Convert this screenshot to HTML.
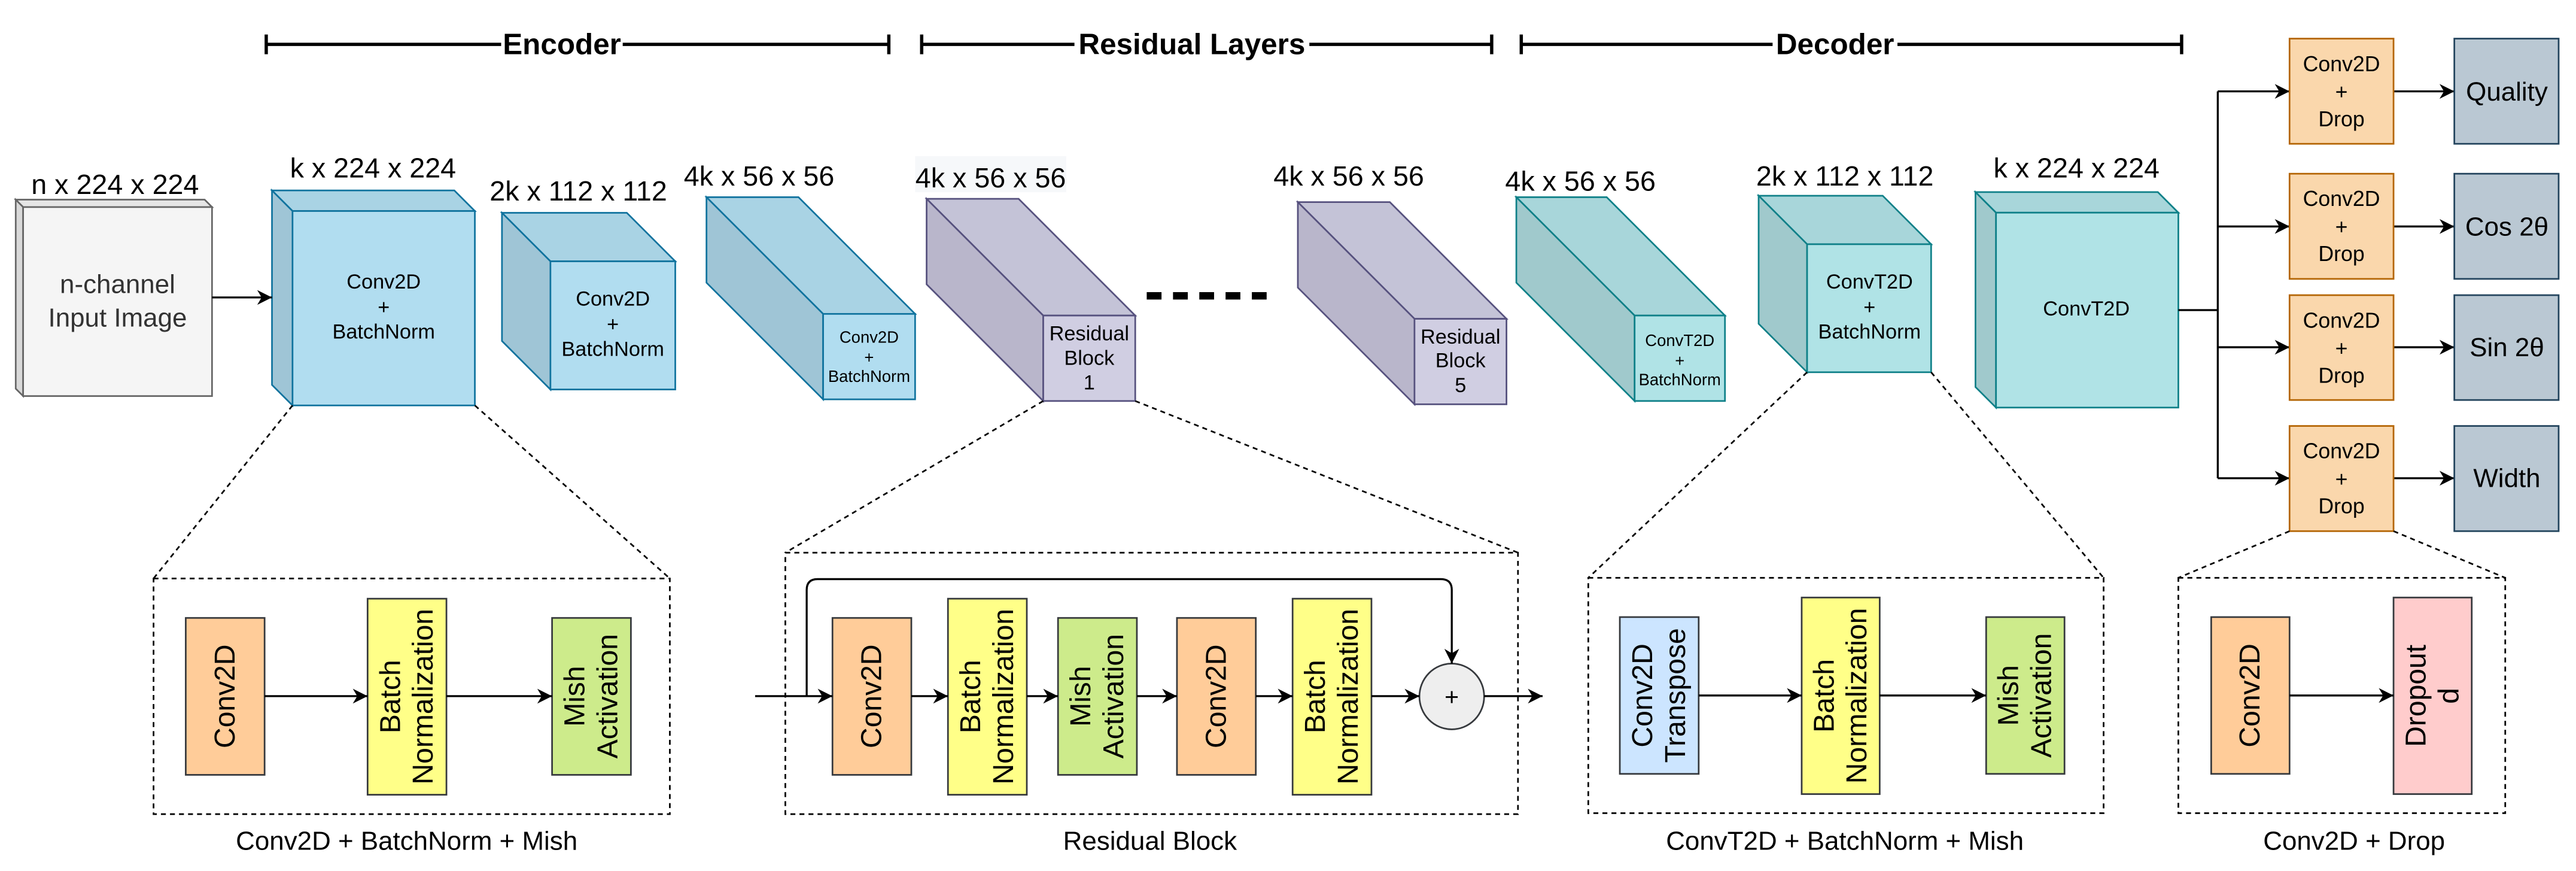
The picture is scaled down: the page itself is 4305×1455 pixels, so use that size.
<!DOCTYPE html>
<html><head><meta charset="utf-8"><style>
html,body{margin:0;padding:0;background:#fff;}
svg{display:block;}
text{font-family:"Liberation Sans",Arial,sans-serif;fill:#000;}
</style></head><body>
<svg width="4305" height="1455" viewBox="0 0 1568 530" xmlns="http://www.w3.org/2000/svg">
<defs>
<marker id="ar" markerUnits="userSpaceOnUse" markerWidth="9" markerHeight="9" viewBox="0 0 10 10" refX="10" refY="5" orient="auto">
<path d="M0,0 L10,5 L0,10 L3,5 z" fill="#000"/>
</marker>
</defs>
<g stroke="#000" stroke-width="2" fill="none">
<line x1="162" y1="27" x2="541" y2="27"/><line x1="162" y1="21" x2="162" y2="33"/><line x1="541" y1="21" x2="541" y2="33"/>
<line x1="561" y1="27" x2="908" y2="27"/><line x1="561" y1="21" x2="561" y2="33"/><line x1="908" y1="21" x2="908" y2="33"/>
<line x1="926" y1="27" x2="1328" y2="27"/><line x1="926" y1="21" x2="926" y2="33"/><line x1="1328" y1="21" x2="1328" y2="33"/>
</g>
<g font-weight="bold" font-size="18" text-anchor="middle">
<rect x="305" y="15" width="74" height="22" fill="#fff"/><text x="342" y="33">Encoder</text>
<rect x="654" y="15" width="143" height="22" fill="#fff"/><text x="725.5" y="33">Residual Layers</text>
<rect x="1079" y="15" width="76" height="22" fill="#fff"/><text x="1117" y="33">Decoder</text>
</g>

<g stroke-width="1">
<g stroke="#666"><polygon points="14,126 9.5,121.5 124.5,121.5 129,126" fill="#e6e6e6"/><polygon points="14,126 9.5,121.5 9.5,236.5 14,241" fill="#d9d9d9"/><rect x="14" y="126" width="115" height="115" fill="#f5f5f5"/></g>
<g stroke="#10739e"><polygon points="178,128.4 165.5,115.9 276.5,115.9 289,128.4" fill="#a9d3e4"/><polygon points="178,128.4 165.5,115.9 165.5,234.2 178,246.7" fill="#9fc5d6"/><rect x="178" y="128.4" width="111" height="118.3" fill="#b1ddf0"/></g>
<g stroke="#10739e"><polygon points="335,159 305.5,129.5 381.5,129.5 411,159" fill="#a9d3e4"/><polygon points="335,159 305.5,129.5 305.5,207.5 335,237" fill="#9fc5d6"/><rect x="335" y="159" width="76" height="78" fill="#b1ddf0"/></g>
<g stroke="#10739e"><polygon points="501,191 430,120 486,120 557,191" fill="#a9d3e4"/><polygon points="501,191 430,120 430,172 501,243" fill="#9fc5d6"/><rect x="501" y="191" width="56" height="52" fill="#b1ddf0"/></g>
<rect x="557" y="95" width="92" height="22" fill="#f6f8fa"/>
<g stroke="#56517e"><polygon points="635,192 564,121 620,121 691,192" fill="#c4c3d7"/><polygon points="635,192 564,121 564,173 635,244" fill="#b9b6cb"/><rect x="635" y="192" width="56" height="52" fill="#d0cee2"/></g>
<g stroke="#56517e"><polygon points="861,194 790,123 846,123 917,194" fill="#c4c3d7"/><polygon points="861,194 790,123 790,175 861,246" fill="#b9b6cb"/><rect x="861" y="194" width="56" height="52" fill="#d0cee2"/></g>
<g stroke="#0e8088"><polygon points="995,192 923,120 978,120 1050,192" fill="#a8d6da"/><polygon points="995,192 923,120 923,172 995,244" fill="#a0c9cc"/><rect x="995" y="192" width="55" height="52" fill="#b0e3e6"/></g>
<g stroke="#0e8088"><polygon points="1100,148.6 1070.5,119.1 1146,119.1 1175.5,148.6" fill="#a8d6da"/><polygon points="1100,148.6 1070.5,119.1 1070.5,197 1100,226.5" fill="#a0c9cc"/><rect x="1100" y="148.6" width="75.5" height="77.9" fill="#b0e3e6"/></g>
<g stroke="#0e8088"><polygon points="1215,129.4 1202.5,116.9 1313.5,116.9 1326,129.4" fill="#a8d6da"/><polygon points="1215,129.4 1202.5,116.9 1202.5,235.5 1215,248" fill="#a0c9cc"/><rect x="1215" y="129.4" width="111" height="118.6" fill="#b0e3e6"/></g>
</g>
<g font-size="17" text-anchor="middle">
<text x="70" y="118">n x 224 x 224</text>
<text x="227" y="108">k x 224 x 224</text>
<text x="352" y="122">2k x 112 x 112</text>
<text x="462" y="113">4k x 56 x 56</text>
<text x="603" y="114">4k x 56 x 56</text>
<text x="821" y="113">4k x 56 x 56</text>
<text x="962" y="116">4k x 56 x 56</text>
<text x="1123" y="113">2k x 112 x 112</text>
<text x="1264" y="108">k x 224 x 224</text>
</g>
<g text-anchor="middle" dominant-baseline="central">
<text x="71.5" y="173" font-size="16" style="fill:#333">n-channel</text>
<text x="71.5" y="193.5" font-size="16" style="fill:#333">Input Image</text>
<g font-size="12.5"><text x="233.5" y="171.5">Conv2D</text><text x="233.5" y="187">+</text><text x="233.5" y="202">BatchNorm</text>
<text x="373" y="182">Conv2D</text><text x="373" y="197.5">+</text><text x="373" y="212.5">BatchNorm</text>
<text x="663" y="203">Residual</text><text x="663" y="218">Block</text><text x="663" y="233">1</text>
<text x="889" y="205">Residual</text><text x="889" y="219.5">Block</text><text x="889" y="234.5">5</text>
<text x="1138" y="171.5">ConvT2D</text><text x="1138" y="187">+</text><text x="1138" y="202">BatchNorm</text>
<text x="1270" y="188">ConvT2D</text></g>
<g font-size="10"><text x="529" y="205">Conv2D</text><text x="529" y="217.5">+</text><text x="529" y="229">BatchNorm</text>
<text x="1022.5" y="207">ConvT2D</text><text x="1022.5" y="219.5">+</text><text x="1022.5" y="231">BatchNorm</text></g>
</g>
<line x1="129" y1="181" x2="165.5" y2="181" stroke="#000" stroke-width="1.2" marker-end="url(#ar)"/>
<g stroke="#000" stroke-width="4.5"><line x1="698" y1="180" x2="776" y2="180" stroke-dasharray="9,7"/></g>

<g stroke="#000" stroke-width="1.2" fill="none">
<polyline points="1326,188.7 1350,188.7"/>
<line x1="1350" y1="55.6" x2="1350" y2="291"/>
<line x1="1350" y1="55.6" x2="1393.7" y2="55.6" marker-end="url(#ar)"/>
<line x1="1350" y1="137.8" x2="1393.7" y2="137.8" marker-end="url(#ar)"/>
<line x1="1350" y1="211.3" x2="1393.7" y2="211.3" marker-end="url(#ar)"/>
<line x1="1350" y1="291" x2="1393.7" y2="291" marker-end="url(#ar)"/>
<line x1="1457" y1="55.6" x2="1494" y2="55.6" marker-end="url(#ar)"/>
<line x1="1457" y1="137.8" x2="1494" y2="137.8" marker-end="url(#ar)"/>
<line x1="1457" y1="211.3" x2="1494" y2="211.3" marker-end="url(#ar)"/>
<line x1="1457" y1="291" x2="1494" y2="291" marker-end="url(#ar)"/>
</g>
<g stroke-width="1">
<g fill="#fad7ac" stroke="#b46504">
<rect x="1393.7" y="23.5" width="63.3" height="64"/><rect x="1393.7" y="105.7" width="63.3" height="64"/><rect x="1393.7" y="179.6" width="63.3" height="63.8"/><rect x="1393.7" y="259.2" width="63.3" height="64"/></g>
<g fill="#bac8d3" stroke="#23445d">
<rect x="1494" y="23.5" width="63.5" height="64"/><rect x="1494" y="105.7" width="63.5" height="64"/><rect x="1494" y="179.6" width="63.5" height="63.8"/><rect x="1494" y="259.2" width="63.5" height="64"/></g>
</g>
<g text-anchor="middle" dominant-baseline="central" font-size="13">
<text x="1425.3" y="39">Conv2D</text><text x="1425.3" y="56">+</text><text x="1425.3" y="72.5">Drop</text>
<text x="1425.3" y="121">Conv2D</text><text x="1425.3" y="138">+</text><text x="1425.3" y="154.5">Drop</text>
<text x="1425.3" y="195">Conv2D</text><text x="1425.3" y="212">+</text><text x="1425.3" y="228.5">Drop</text>
<text x="1425.3" y="274.5">Conv2D</text><text x="1425.3" y="291.5">+</text><text x="1425.3" y="308">Drop</text>
<g font-size="16"><text x="1526" y="56">Quality</text><text x="1526" y="138">Cos 2θ</text><text x="1526" y="211.5">Sin 2θ</text><text x="1526" y="291">Width</text></g>
</g>

<g stroke="#000" stroke-width="1" fill="none" stroke-dasharray="3,2.5">
<line x1="178" y1="246.7" x2="93.4" y2="352"/><line x1="289" y1="246.7" x2="407.7" y2="352"/>
<rect x="93.4" y="352" width="314.3" height="143.4"/>
<line x1="635" y1="244" x2="478" y2="336.3"/><line x1="691" y1="244" x2="924" y2="336.3"/>
<rect x="478" y="336.3" width="446" height="159.1"/>
<line x1="1100" y1="226.5" x2="966.8" y2="351.6"/><line x1="1175.5" y1="226.5" x2="1280.5" y2="351.6"/>
<rect x="966.8" y="351.6" width="313.7" height="143.2"/>
<line x1="1393.7" y1="323.2" x2="1326" y2="351.6"/><line x1="1457" y1="323.2" x2="1525" y2="351.6"/>
<rect x="1326" y="351.6" width="199" height="143.2"/>
</g>

<g stroke="#36393d" stroke-width="1">
<rect x="113" y="376" width="48" height="95.5" fill="#ffcc99"/>
<rect x="223.7" y="364.3" width="48" height="119.3" fill="#ffff88"/>
<rect x="336" y="376" width="48" height="95.5" fill="#cdeb8b"/>
<rect x="506.7" y="376" width="48" height="95.5" fill="#ffcc99"/>
<rect x="577" y="364.3" width="48" height="119.3" fill="#ffff88"/>
<rect x="644" y="376" width="48" height="95.5" fill="#cdeb8b"/>
<rect x="716.4" y="376" width="48" height="95.5" fill="#ffcc99"/>
<rect x="786.8" y="364.3" width="48" height="119.3" fill="#ffff88"/>
<ellipse cx="883.7" cy="423.8" rx="19.7" ry="20" fill="#eeeeee"/>
<rect x="986" y="375.5" width="48" height="95.4" fill="#cce5ff"/>
<rect x="1096.7" y="363.6" width="47.5" height="119.6" fill="#ffff88"/>
<rect x="1209" y="375.5" width="47.7" height="95.4" fill="#cdeb8b"/>
<rect x="1346" y="375.5" width="47.7" height="95.4" fill="#ffcc99"/>
<rect x="1457" y="363.6" width="47.6" height="119.6" fill="#ffcccc"/>
</g>
<g stroke="#000" stroke-width="1.2" fill="none">
<line x1="161" y1="423.6" x2="223.7" y2="423.6" marker-end="url(#ar)"/>
<line x1="271.7" y1="423.6" x2="336" y2="423.6" marker-end="url(#ar)"/>
<line x1="459.6" y1="423.6" x2="506.7" y2="423.6" marker-end="url(#ar)"/>
<line x1="554.7" y1="423.6" x2="577" y2="423.6" marker-end="url(#ar)"/>
<line x1="625" y1="423.6" x2="644" y2="423.6" marker-end="url(#ar)"/>
<line x1="692" y1="423.6" x2="716.4" y2="423.6" marker-end="url(#ar)"/>
<line x1="764.4" y1="423.6" x2="786.8" y2="423.6" marker-end="url(#ar)"/>
<line x1="834.8" y1="423.6" x2="864" y2="423.6" marker-end="url(#ar)"/>
<line x1="903.4" y1="423.6" x2="939" y2="423.6" marker-end="url(#ar)"/>
<path d="M491,423.6 L491,359 Q491,352.4 497.6,352.4 L877,352.4 Q883.7,352.4 883.7,359 L883.7,403.8" marker-end="url(#ar)"/>
<line x1="1034" y1="423.2" x2="1096.7" y2="423.2" marker-end="url(#ar)"/>
<line x1="1144.2" y1="423.2" x2="1209" y2="423.2" marker-end="url(#ar)"/>
<line x1="1393.7" y1="423.2" x2="1457" y2="423.2" marker-end="url(#ar)"/>
</g>
<text x="883.7" y="424" font-size="15" text-anchor="middle" dominant-baseline="central">+</text>
<g font-size="17.5" text-anchor="middle" dominant-baseline="central">
<g transform="translate(137,423.7) rotate(-90)"><text x="0" y="0">Conv2D</text></g>
<g transform="translate(247.7,423.9) rotate(-90)"><text x="0" y="-10">Batch</text><text x="0" y="10">Normalization</text></g>
<g transform="translate(360,423.7) rotate(-90)"><text x="0" y="-10">Mish</text><text x="0" y="10">Activation</text></g>
<g transform="translate(530.7,423.7) rotate(-90)"><text x="0" y="0">Conv2D</text></g>
<g transform="translate(601,423.9) rotate(-90)"><text x="0" y="-10">Batch</text><text x="0" y="10">Normalization</text></g>
<g transform="translate(668,423.7) rotate(-90)"><text x="0" y="-10">Mish</text><text x="0" y="10">Activation</text></g>
<g transform="translate(740.4,423.7) rotate(-90)"><text x="0" y="0">Conv2D</text></g>
<g transform="translate(810.8,423.9) rotate(-90)"><text x="0" y="-10">Batch</text><text x="0" y="10">Normalization</text></g>
<g transform="translate(1010,423.2) rotate(-90)"><text x="0" y="-10">Conv2D</text><text x="0" y="10">Transpose</text></g>
<g transform="translate(1120.5,423.4) rotate(-90)"><text x="0" y="-10">Batch</text><text x="0" y="10">Normalization</text></g>
<g transform="translate(1232.8,423.2) rotate(-90)"><text x="0" y="-10">Mish</text><text x="0" y="10">Activation</text></g>
<g transform="translate(1369.8,423.2) rotate(-90)"><text x="0" y="0">Conv2D</text></g>
<g transform="translate(1480.8,423.4) rotate(-90)"><text x="0" y="-10">Dropout</text><text x="0" y="10">d</text></g>
</g>
<g font-size="16" text-anchor="middle">
<text x="247.5" y="517">Conv2D + BatchNorm + Mish</text>
<text x="700" y="517">Residual Block</text>
<text x="1123" y="517">ConvT2D + BatchNorm + Mish</text>
<text x="1433" y="517">Conv2D + Drop</text>
</g>
</svg>
</body></html>
